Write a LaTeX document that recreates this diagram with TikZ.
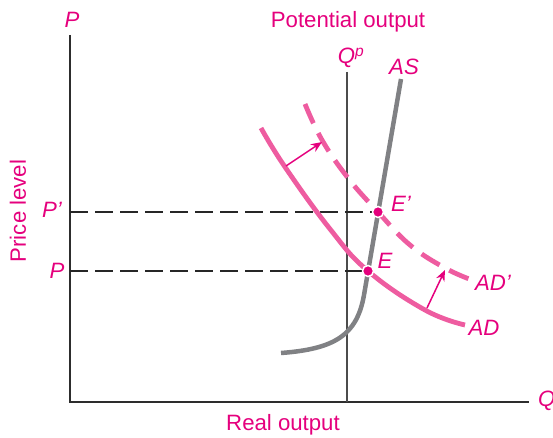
\documentclass[tikz,border=0pt]{standalone}
\usepackage{fontspec}
\setmainfont{Liberation Sans}
\usetikzlibrary{arrows.meta}
\definecolor{mag}{RGB}{229,0,125}
\definecolor{pinkc}{RGB}{238,92,160}
\definecolor{asgray}{RGB}{128,129,132}
\definecolor{axisc}{RGB}{45,45,45}
\tikzset{
 lbl/.style={text=mag, font=\fontsize{22.2}{25}\selectfont, inner sep=0pt},
 ilbl/.style={text=mag, font=\fontsize{22.2}{25}\selectfont\itshape, inner sep=0pt},
 axisline/.style={draw=axisc, line width=1.4pt},
 qpline/.style={draw=black!70, line width=1.2pt},
 guide/.style={draw=black!85, line width=1.1pt, dash pattern=on 18pt off 7pt},
 adcurve/.style={draw=pinkc, line width=4.8pt},
 addash/.style={draw=pinkc, line width=4.8pt, dash pattern=on 21pt off 11pt},
 ascurve/.style={draw=asgray, line width=4.5pt},
 shiftarrow/.style={draw=mag, line width=1.5pt, -{Stealth[length=11pt,width=9pt]}},
 eqdot/.style={circle, fill=mag, draw=white, line width=1.5pt, inner sep=0pt, minimum size=11pt},
}
\begin{document}
\begin{tikzpicture}[x=1pt,y=-1pt]
\useasboundingbox (0,0) rectangle (553,438);
% axes
\coordinate (O) at (70,402);
\coordinate (Ytop) at (70,35);
\coordinate (Xend) at (529,402);
\draw[axisline] (Ytop) -- (O) -- (Xend);
% potential output line
\coordinate (QpTop) at (347,72);
\coordinate (QpBot) at (347,402);
\draw[qpline] (QpTop) -- (QpBot);
% equilibrium points
\node[eqdot] (E) at (368,271) {};
\node[eqdot] (Ep) at (378,212) {};
\coordinate (PAx) at (70,271);
\coordinate (PpAx) at (70,212);
\draw[guide] (PAx) -- (E.center);
\draw[guide] (PpAx) -- (Ep.center);
% AS curve
\coordinate (ASstart) at (281,353);
\coordinate (ASknee) at (364,295);
\coordinate (AStop) at (401,79);
\draw[ascurve] (ASstart) .. controls (335,349) and (357,335) .. (ASknee) -- (AStop);
% AD curve
\draw[adcurve] plot[smooth, tension=0.7] coordinates {(261,128) (285,167) (330,229) (368,271) (425,310) (465,325)};
% AD' curve
\draw[addash] plot[smooth, tension=0.7] coordinates {(305,104) (322,140) (348,178) (378,212) (410,245) (445,268) (472,280)};
% shift arrows
\coordinate (A1s) at (286,166);
\coordinate (A1e) at (322,142);
\coordinate (A2s) at (427,308);
\coordinate (A2e) at (445,270);
\draw[shiftarrow] (A1s) -- (A1e);
\draw[shiftarrow] (A2s) -- (A2e);
% redraw dots on top
\node[eqdot] at (E) {};
\node[eqdot] at (Ep) {};
% labels
\node[ilbl] (Plbl) at (72,20) {P};
\node[lbl] (potout) at (348,22) {Potential output};
\node[ilbl] (Qplbl) at (351,58) {Q\textsuperscript{p}};
\node[ilbl] (ASlbl) at (404,67) {AS};
\node[ilbl] (Eplbl) at (401,204) {E’};
\node[ilbl] (Elbl) at (385,261) {E};
\node[ilbl] (ADplbl) at (493,283) {AD’};
\node[ilbl] (ADlbl) at (484,328) {AD};
\node[ilbl] (Pplbl) at (52,210) {P’};
\node[ilbl] (Pl) at (57,271) {P};
\node[lbl, rotate=90] (pricelvl) at (18,211) {Price level};
\node[lbl] (realout) at (283,425) {Real output};
\node[ilbl, anchor=west] (Qlbl) at (538,401) {Q};
\end{tikzpicture}
\end{document}
